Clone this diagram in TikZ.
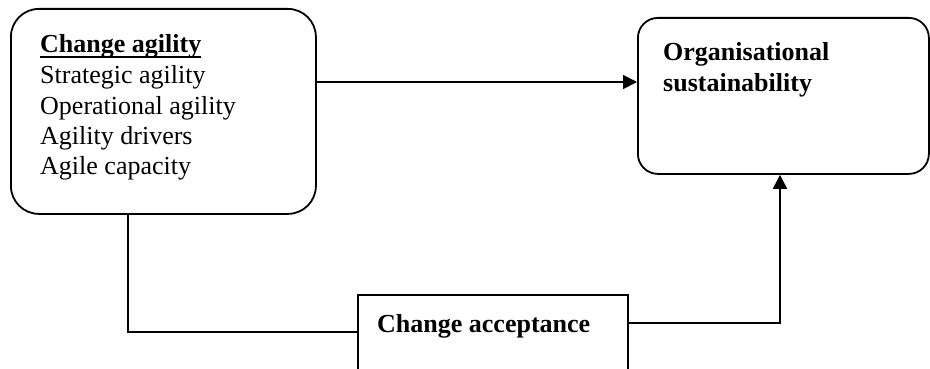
\documentclass[tikz,border=0pt]{standalone}
\usepackage{fontspec}
\setmainfont{Liberation Serif}
\usetikzlibrary{arrows.meta,calc}
\newcommand\myul[1]{\setbox0\hbox{#1}\rlap{\rule[-5pt]{\wd0}{2.4pt}}\box0}
\begin{document}
\begin{tikzpicture}[x=1pt,y=-1pt,
  roundbox/.style={draw, line width=1.8pt, anchor=north west, inner sep=0pt},
  label/.style={anchor=base west, inner sep=0pt, align=left, font=\fontsize{26}{30.5}\selectfont},
  conn/.style={line width=1.8pt},
  arr/.style={line width=1.8pt, -{Triangle[length=14pt,width=14pt]}}]
\useasboundingbox (0,0) rectangle (930,369);
\node[roundbox, rounded corners=28pt, minimum width=305pt, minimum height=205pt] (ca) at (10,8) {};
\node[roundbox, rounded corners=20pt, minimum width=291pt, minimum height=156pt] (os) at (637,17) {};
\node[roundbox, minimum width=270pt, minimum height=110pt] (cacc) at (357,294) {};
\node[label] (catext) at (40,53) {\myul{\textbf{Change agility}}};
\node[label] (l1) at (40,83.5) {Strategic agility};
\node[label] (l2) at (40,114) {Operational agility};
\node[label] (l3) at (40,144.5) {Agility drivers};
\node[label] (l4) at (40,175) {Agile capacity};
\node[label] (ostext1) at (663,61) {\textbf{Organisational}};
\node[label] (ostext2) at (663,91.5) {\textbf{sustainability}};
\node[label] (cacctext) at (377,332) {\textbf{Change acceptance}};
\draw[arr] (ca.east |- 0,82) -- (os.west |- 0,82);
\draw[conn] (128,0 |- ca.south) |- ($(cacc.north west)+(0,38)$);
\draw[arr] ($(cacc.north east)+(0,29)$) -| (780,0 |- os.south);
\end{tikzpicture}
\end{document}
